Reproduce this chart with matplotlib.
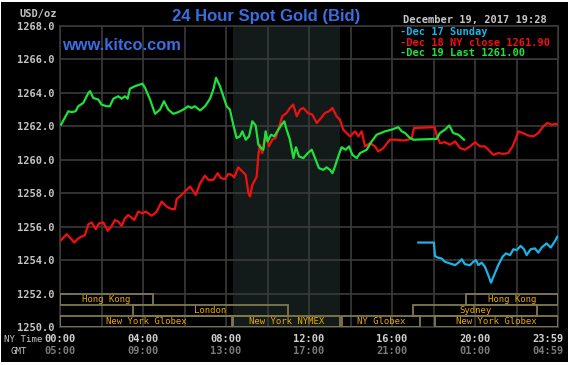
import matplotlib
matplotlib.use("Agg")
import matplotlib.pyplot as plt
import matplotlib.patches as patches
from matplotlib.transforms import blended_transform_factory

W, H = 569, 365

# Dec 19 (today) - hours NY time, price
green_h = [0.05, 0.4, 0.56, 0.75, 0.88, 1.12, 1.37, 1.45, 1.6, 1.85,
           2.0, 2.25, 2.4, 2.57, 2.81, 2.97, 3.13, 3.26, 3.37, 3.61,
           3.97, 4.1, 4.34, 4.58, 4.82, 5.01, 5.22, 5.46, 5.7, 5.94,
           6.18, 6.34, 6.5, 6.75, 6.99, 7.23, 7.39, 7.52, 7.71, 7.87,
           8.03, 8.19, 8.35, 8.51, 8.67, 8.79, 8.95, 9.11, 9.27, 9.43,
           9.56, 9.69, 9.8, 9.91, 10.01, 10.17, 10.33, 10.52, 10.68, 10.81,
           10.92, 11.08, 11.25, 11.37, 11.52, 11.73, 11.94, 12.13, 12.29, 12.48,
           12.69, 12.85, 13.01, 13.13, 13.25, 13.41, 13.57, 13.77, 13.93, 14.09,
           14.3, 14.46, 14.78, 15.02, 15.26, 15.66, 15.98, 16.3, 16.47, 16.63,
           16.87, 17.03, 18.15, 18.31, 18.55, 18.76, 18.95, 19.2, 19.47]
green_v = [1262.1, 1262.9, 1262.85, 1262.9, 1263.2, 1263.4, 1264.0, 1264.1, 1263.7, 1263.6,
           1263.3, 1263.2, 1263.2, 1263.65, 1263.8, 1263.65, 1263.8, 1263.65, 1264.25, 1264.4,
           1264.55, 1264.3, 1263.6, 1262.75, 1263.0, 1263.5, 1263.0, 1262.75, 1262.85, 1263.0,
           1263.2, 1263.1, 1263.2, 1262.95, 1263.2, 1263.65, 1264.2, 1264.9, 1264.4, 1263.8,
           1263.2, 1263.0, 1262.1, 1261.3, 1261.4, 1261.7, 1261.2, 1261.4, 1262.3, 1262.05,
           1260.9, 1260.7, 1260.6, 1261.7, 1261.1, 1261.5, 1261.4, 1261.8, 1262.1, 1262.3,
           1261.8, 1261.2, 1260.1, 1260.75, 1260.2, 1260.1, 1260.4, 1260.6, 1260.1, 1259.5,
           1259.4, 1259.55, 1259.4, 1259.2, 1259.6, 1260.2, 1260.75, 1260.6, 1260.8, 1260.3,
           1260.1, 1260.4, 1260.6, 1261.1, 1261.5, 1261.7, 1261.8, 1261.95, 1261.7, 1261.6,
           1261.3, 1261.2, 1261.25, 1261.6, 1261.8, 1262.05, 1261.6, 1261.5, 1261.2]

# Dec 18 NY close
red_h = [0.05, 0.32, 0.48, 0.69, 0.88, 1.2, 1.37, 1.53, 1.72, 1.88,
         2.09, 2.3, 2.49, 2.65, 2.81, 2.97, 3.13, 3.29, 3.58, 3.77,
         3.97, 4.13, 4.42, 4.66, 4.9, 5.14, 5.38, 5.54, 5.62, 5.86,
         6.06, 6.27, 6.38, 6.54, 6.75, 6.99, 7.15, 7.39, 7.6, 7.76,
         7.95, 8.11, 8.27, 8.4, 8.59, 8.79, 8.95, 9.08, 9.16, 9.27,
         9.4, 9.48, 9.56, 9.64, 9.75, 9.91, 10.07, 10.23, 10.39, 10.52,
         10.71, 10.92, 11.08, 11.24, 11.41, 11.57, 11.73, 11.94, 12.16, 12.37,
         12.58, 12.77, 12.96, 13.13, 13.33, 13.49, 13.65, 13.89, 13.98, 14.22,
         14.38, 14.54, 14.7, 14.94, 15.18, 15.34, 15.58, 15.9, 16.22, 16.55,
         16.78, 16.95, 17.06, 18.05, 18.15, 18.31, 18.55, 18.8, 19.04, 19.28,
         19.52, 19.76, 20.0, 20.24, 20.48, 20.72, 20.88, 21.12, 21.36, 21.6,
         21.81, 22.01, 22.09, 22.3, 22.57, 22.81, 23.05, 23.29, 23.48, 23.7,
         23.86, 24.0]
red_v = [1255.2, 1255.55, 1255.35, 1255.05, 1255.3, 1255.5, 1256.15, 1256.25, 1255.85, 1256.2,
         1256.25, 1255.75, 1256.05, 1256.4, 1256.3, 1256.05, 1256.5, 1256.7, 1256.4, 1256.9,
         1256.8, 1256.9, 1256.65, 1256.9, 1257.5, 1257.2, 1257.05, 1257.05, 1257.65, 1257.9,
         1258.15, 1258.4, 1258.2, 1257.9, 1258.6, 1259.05, 1258.8, 1258.8, 1259.2, 1258.9,
         1258.85, 1259.15, 1259.1, 1258.95, 1259.55, 1259.3, 1259.1, 1258.0, 1257.8, 1258.5,
         1258.8, 1259.0, 1260.3, 1260.9, 1260.4, 1261.5, 1260.8, 1261.2, 1261.3, 1261.8,
         1262.6, 1262.8, 1263.1, 1263.3, 1262.6, 1263.0, 1263.1, 1262.8, 1262.7, 1262.2,
         1262.5, 1262.8, 1262.9, 1263.1, 1262.6, 1262.4, 1261.8, 1261.5, 1261.4, 1261.7,
         1261.4, 1261.7, 1260.8, 1261.0, 1260.8, 1260.5, 1260.7, 1261.2, 1261.2, 1261.15,
         1261.2, 1261.3, 1261.9, 1261.95, 1261.5, 1261.0, 1261.05, 1260.9, 1261.1, 1260.7,
         1260.6, 1260.8, 1261.05, 1260.8, 1260.8, 1260.5, 1260.3, 1260.4, 1260.35, 1260.4,
         1260.8, 1261.4, 1261.7, 1261.6, 1261.45, 1261.4, 1261.6, 1262.0, 1262.2, 1262.1,
         1262.15, 1262.1]

# Dec 17 Sunday
cyan_h = [17.27, 18.02, 18.07, 18.2, 18.39, 18.55, 18.8, 19.04, 19.2, 19.36,
          19.52, 19.76, 19.92, 20.05, 20.16, 20.32, 20.48, 20.64, 20.77, 20.92,
          21.12, 21.33, 21.49, 21.69, 21.85, 22.01, 22.2, 22.36, 22.49, 22.68,
          22.89, 23.05, 23.21, 23.45, 23.65, 23.86, 23.97]
cyan_v = [1255.05, 1255.05, 1254.25, 1254.15, 1254.1, 1253.9, 1253.8, 1253.7, 1253.85, 1254.05,
          1253.75, 1253.7, 1253.9, 1254.0, 1253.7, 1253.85, 1253.6, 1253.1, 1252.65, 1253.1,
          1253.7, 1254.2, 1254.4, 1254.3, 1254.65, 1254.6, 1254.85, 1254.65, 1254.3, 1254.65,
          1254.7, 1254.45, 1254.75, 1255.0, 1254.75, 1255.15, 1255.4]

# trading sessions
sess_names = ["Hong Kong", "London", "New York Globex", "New York NYMEX",
              "NY Globex", "New York Globex", "Sydney", "Hong Kong"]
sess_start = [0, 3.5, 0, 8.33, 13.57, 18.07, 17.0, 19.55]
sess_end = [4.5, 11.0, 8.3, 13.5, 17.35, 24.0, 23.0, 24.0]
sess_row = [0, 1, 2, 2, 2, 2, 1, 0]

ny_labels = ["00:00", "04:00", "08:00", "12:00", "16:00", "20:00", "23:59"]
gmt_labels = ["05:00", "09:00", "13:00", "17:00", "21:00", "01:00", "04:59"]
yticks = list(range(1250, 1269, 2))

legend_texts = ["-Dec 17 Sunday", "-Dec 18 NY close 1261.90", "-Dec 19 Last 1261.00"]

GREEN = "#1ee23c"
RED = "#f01010"
CYAN = "#1ab4e6"
GRID = "#3a3a3a"
MONO = "DejaVu Sans Mono"

fig = plt.figure(figsize=(W / 100, H / 100), dpi=100)
fig.patch.set_facecolor("white")
fig.patches.append(patches.Rectangle((1 / W, 3 / H), 567 / W, 360 / H,
                                     transform=fig.transFigure, facecolor="black",
                                     edgecolor="none", zorder=-5))

ax = fig.add_axes([60 / W, 1 - 327 / H, 498 / W, 301 / H])
ax.set_facecolor("black")
ax.set_xlim(0, 24)
ax.set_ylim(1250, 1268)

# NYMEX pit session shading
ax.axvspan(8.33, 13.5, color="#131a1a", zorder=0.5, lw=0)

ax.set_xticks(range(0, 25, 2))
ax.set_yticks(yticks)
ax.set_xticklabels([])
ax.set_yticklabels([f"{v:.1f}" for v in yticks], family=MONO, fontweight="bold",
                   fontsize=7.5, color="#c4c4c4")
ax.tick_params(length=0, pad=4)
ax.grid(True, color=GRID, lw=1.2)
for s in ax.spines.values():
    s.set_color(GRID)
    s.set_linewidth(1.2)

ax.plot(red_h, red_v, color=RED, lw=1.6, zorder=3)
ax.plot(cyan_h, cyan_v, color=CYAN, lw=1.6, zorder=3)
ax.plot(green_h, green_v, color=GREEN, lw=1.6, zorder=4)

# session boxes
row_h = 2 / 3
for name, a, b, r in zip(sess_names, sess_start, sess_end, sess_row):
    y0 = 1252 - (r + 1) * row_h
    ax.add_patch(patches.Rectangle((a, y0), b - a, row_h, fill=False,
                                   edgecolor="#80794f", lw=1.3, zorder=5))
    ax.text((a + b) / 2, y0 + row_h / 2, name, ha="center", va="center",
            family=MONO, fontsize=6.5, color="#e8a800", zorder=6)

# legend box
ax.add_patch(patches.Rectangle((16, 1266), 8, 2, facecolor="black",
                               edgecolor=GRID, lw=1.2, zorder=6, clip_on=False))
for i, (t, c) in enumerate(zip(legend_texts, [CYAN, RED, GREEN])):
    fig.text(400 / W, 1 - (32 + 10.5 * i) / H, t, family=MONO, fontweight="bold",
             fontsize=7.5, color=c, va="center", ha="left")

# header texts
fig.text(266 / W, 1 - 16 / H, "24 Hour Spot Gold (Bid)", ha="center", va="center",
         family="Liberation Sans", fontweight="bold", fontsize=12, color="#3a6ee0")
fig.text(62 / W, 1 - 45 / H, "www.kitco.com", ha="left", va="center",
         family="Liberation Sans", fontweight="bold", fontsize=11.8, color="#3a6ee0")
fig.text(403 / W, 1 - 20 / H, "December 19, 2017 19:28", ha="left", va="center",
         family=MONO, fontweight="bold", fontsize=7.5, color="#c8c8c8")
fig.text(57 / W, 1 - 14.5 / H, "USD/oz", ha="right", va="center",
         family=MONO, fontweight="bold", fontsize=7.5, color="#c4c4c4")

# bottom time axis
trans = blended_transform_factory(ax.transData, fig.transFigure)
pos = [0, 4, 8, 12, 16, 20, 23.5]
for p, a, g in zip(pos, ny_labels, gmt_labels):
    ax.text(p, 1 - 339 / H, a, transform=trans, ha="center", va="center",
            family=MONO, fontweight="bold", fontsize=7.5, color="#d0d0d0")
    ax.text(p, 1 - 351 / H, g, transform=trans, ha="center", va="center",
            family=MONO, fontweight="bold", fontsize=7.5, color="#7a7a7a")
fig.text(42 / W, 1 - 339 / H, "NY Time", ha="right", va="center",
         family=MONO, fontsize=6.6, color="#c4c4c4")
fig.text(27 / W, 1 - 351 / H, "GMT", ha="right", va="center",
         family=MONO, fontsize=6.6, color="#c4c4c4")

fig.savefig("out.png", dpi=100, facecolor=fig.get_facecolor())
